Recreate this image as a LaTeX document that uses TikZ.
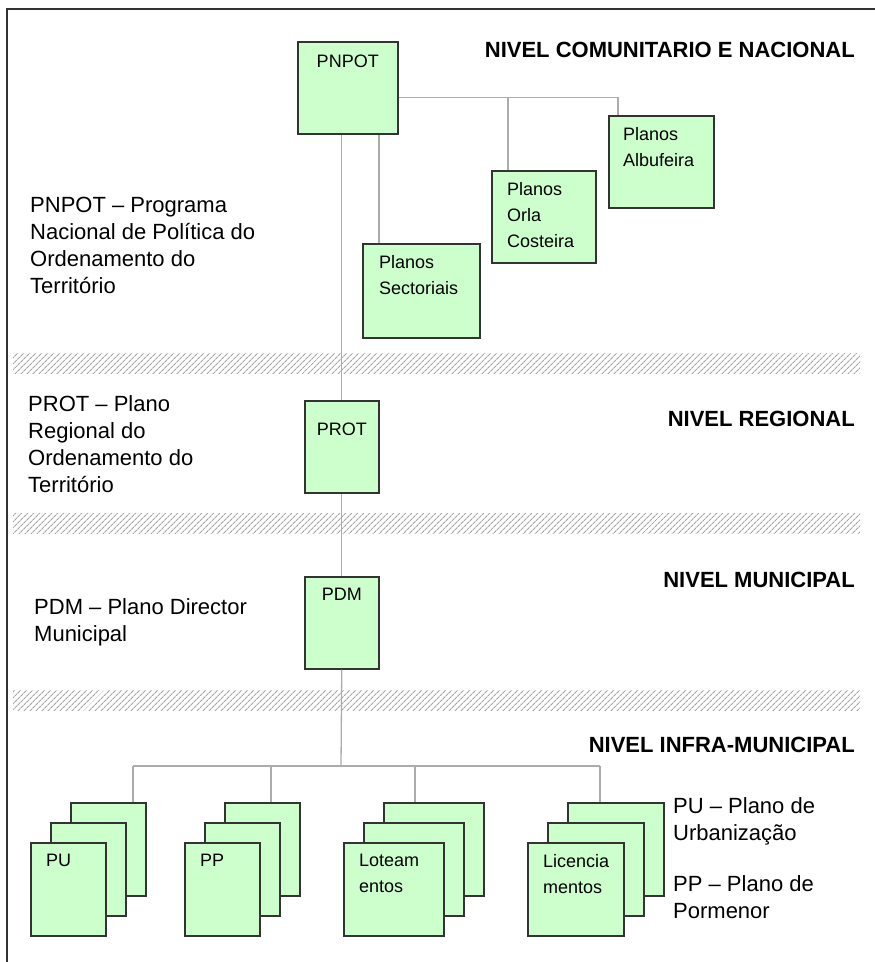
\documentclass[tikz,border=0pt]{standalone}
\usepackage{fontspec}
\setmainfont{Liberation Sans}
\usetikzlibrary{positioning}
\usetikzlibrary{patterns.meta}
\definecolor{planfill}{HTML}{CCFFCC}
\definecolor{planline}{HTML}{333333}
\tikzset{
	plan/.style = {draw=planline, fill=planfill, line width=1.5pt, inner sep=0pt, anchor=north west},
	link/.style = {draw=gray!65, line width=1.3pt},
	band/.style = {pattern={Lines[angle=45, distance=4pt, line width=1.1pt]}, pattern color=gray!70},
	note/.style = {anchor=north west, inner sep=0pt, align=left, font=\fontsize{22}{27}\selectfont},
	level/.style = {anchor=east, inner sep=0pt, font=\bfseries\fontsize{22}{26}\selectfont},
	boxtext/.style = {inner sep=0pt, align=left, font=\fontsize{18}{26}\selectfont}
}

\begin{document}
\begin{tikzpicture}[x=1pt, y=-1pt]
	\useasboundingbox (0,0) rectangle (875,962);
	% frame
	\draw[planline, line width=2pt] (7,962) -- (7,9) -- (875,9);
	% bands between levels
	\foreach \y in {353, 513, 690}
		\fill[band] (13,\y) rectangle (860,\y+20);
	
	% national level
	\node[plan, minimum width=100pt, minimum height=92pt,
		label={[boxtext, anchor=north, yshift=-14pt]north:PNPOT}] (pnpot) at (297,41) {};
	\node[plan, minimum width=105pt, minimum height=92pt,
		label={[boxtext, anchor=north west, xshift=15pt, yshift=-12pt]north west:{Planos\\Albufeira}}] (albufeira) at (608,115) {};
	\node[plan, minimum width=104pt, minimum height=92pt,
		label={[boxtext, anchor=north west, xshift=16pt, yshift=-12pt]north west:{Planos\\Orla\\Costeira}}] (orla) at (491,170) {};
	\node[plan, minimum width=117pt, minimum height=94pt,
		label={[boxtext, anchor=north west, xshift=17pt, yshift=-12pt]north west:{Planos\\Sectoriais}}] (sect) at (362,243) {};
	
	% regional and municipal
	\node[plan, minimum width=74pt, minimum height=92pt,
		label={[boxtext, anchor=north, yshift=-23pt]north:PROT}] (prot) at (304,400) {};
	\node[plan, minimum width=74pt, minimum height=92pt,
		label={[boxtext, anchor=north, yshift=-12pt]north:PDM}] (pdm) at (304,576) {};
	
	% links
	\coordinate (bar) at ([yshift=-10pt]pnpot.east);
	\coordinate (drop albufeira) at ([xshift=10pt]albufeira.north west);
	\coordinate (drop orla) at ([xshift=17pt]orla.north west);
	\coordinate (drop sect) at ([xshift=17pt]sect.north west);
	\draw[link] (bar) -| (drop albufeira);
	\draw[link] (drop orla) -- (drop orla |- bar);
	\draw[link] (drop sect) -- (drop sect |- pnpot.south);
	\draw[link] (prot.north |- pnpot.south) -- (prot.north);
	\draw[link] (prot.south) -- (pdm.north);
	
	% infra-municipal stacks
	\coordinate (bus) at (341,766);
	\foreach \name/\x/\w/\dx/\txt in {pu/30/75/63/PU, pp/184/75/47/PP,
		lot/343/100/32/{Loteam\\entos}, lic/527/96/33/{Licencia\\mentos}} {
		\node[plan, minimum width=\w pt, minimum height=93pt] (\name3) at (\x+40,802) {};
		\node[plan, minimum width=\w pt, minimum height=93pt] (\name2) at (\x+20,822) {};
		\node[plan, minimum width=\w pt, minimum height=93pt,
			label={[boxtext, anchor=north west, xshift=16pt, yshift=-12pt]north west:\txt}] (\name1) at (\x,842) {};
		\coordinate (drop \name) at ([xshift=\dx pt]\name3.north west);
		\draw[link] (drop \name) -- (drop \name |- bus);
	}
	\draw[link] (drop pu |- bus) -- (drop lic |- bus);
	\draw[link] (pdm.south) -- (bus);
	
	% levels
	\node[level] (lvl nac) at (855,50) {NIVEL COMUNITARIO E NACIONAL};
	\node[level] (lvl reg) at (855,419) {NIVEL REGIONAL};
	\node[level] (lvl mun) at (855,580) {NIVEL MUNICIPAL};
	\node[level] (lvl infra) at (855,745) {NIVEL INFRA-MUNICIPAL};
	
	% notes
	\node[note] (pnpot note) at (30,197) {PNPOT – Programa\\Nacional de Política do\\Ordenamento do\\Território};
	\node[note] (prot note) at (28,395) {PROT – Plano\\Regional do\\Ordenamento do\\Território};
	\node[note] (pdm note) at (34,598) {PDM – Plano Director\\Municipal};
	\node[note] (pu note) at (673,797) {PU – Plano de\\Urbanização};
	\node[note] (pp note) at (673,875) {PP – Plano de\\Pormenor};
\end{tikzpicture}
\end{document}
